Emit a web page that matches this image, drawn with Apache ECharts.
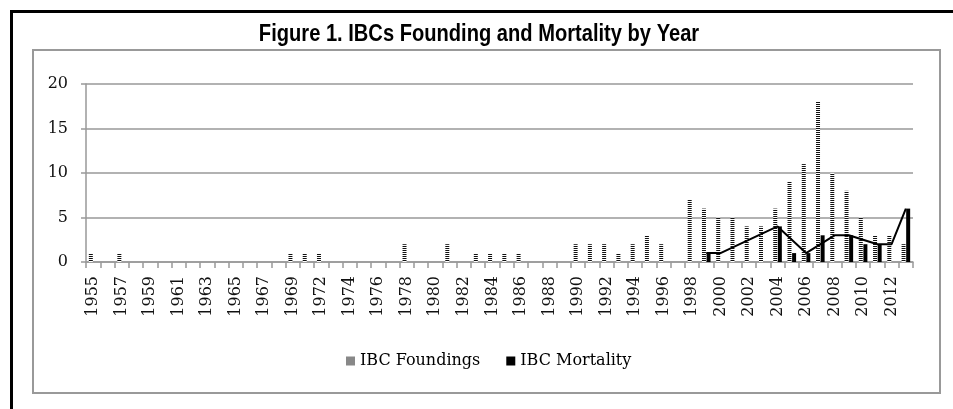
<!DOCTYPE html>
<html>
<head>
<meta charset="utf-8">
<script src="https://cdn.jsdelivr.net/npm/echarts@6/dist/echarts.min.js"></script>
<style>
html,body{margin:0;padding:0;background:#fff;}
#chart{width:953px;height:409px;}
</style>
</head>
<body>
<div id="chart"></div>
<script>
var years = ['1955','1956','1957','1958','1959','1960','1961','1962','1963','1964','1965','1966','1967','1968','1969','1971',
  '1972','1973','1974','1975','1976','1977','1978','1979','1980','1981','1982','1983','1984','1985','1986','1987','1988','1989',
  '1990','1991','1992','1993','1994','1995','1996','1997','1998','1999','2000','2001','2002','2003','2004','2005','2006','2007',
  '2008','2009','2010','2011','2012','2013'];
var foundings = [1,0,1,0,0,0,0,0,0,0,0,0,0,0,1,1,
  1,0,0,0,0,0,2,0,0,2,0,1,1,1,1,0,0,0,
  2,2,2,1,2,3,2,0,7,6,5,5,4,4,6,9,11,18,
  10,8,5,3,3,2];
var mortality = [0,0,0,0,0,0,0,0,0,0,0,0,0,0,0,0,
  0,0,0,0,0,0,0,0,0,0,0,0,0,0,0,0,0,0,
  0,0,0,0,0,0,0,0,0,1,0,0,0,0,4,1,1,3,
  0,3,2,2,0,6];
var mortalityLine = [null,null,null,null,null,null,null,null,null,null,null,null,null,null,null,null,
  null,null,null,null,null,null,null,null,null,null,null,null,null,null,null,null,null,null,
  null,null,null,null,null,null,null,null,null,1,1,null,null,null,4,null,1,null,
  3,3,null,2,2,6];
var yTicks = [0,5,10,15,20];
var titleText = 'Figure 1. IBCs Founding and Mortality by Year';

var pc = document.createElement('canvas');
pc.width = 2; pc.height = 2;
var pctx = pc.getContext('2d');
pctx.fillStyle = '#ffffff'; pctx.fillRect(0,0,2,2);
pctx.fillStyle = '#111111'; pctx.fillRect(0,0,2,1);

var serif = "'DejaVu Serif', 'Liberation Serif', serif";
var chart = echarts.init(document.getElementById('chart'), null, {renderer:'canvas'});
chart.setOption({
  backgroundColor: '#fff',
  animation: false,
  graphic: [
    {type:'rect', z:-10, shape:{x:11.5, y:11.5, width:1000, height:500}, style:{fill:'none', stroke:'#000', lineWidth:3}},
    {type:'rect', z:-10, shape:{x:33, y:50, width:907, height:343}, style:{fill:'none', stroke:'#999', lineWidth:2}},
    {type:'text', x:479, y:34.5, scaleX:0.838, scaleY:1,
      style:{text: titleText, x:0, y:0, align:'center', verticalAlign:'middle',
        font: "bold 24px 'Liberation Sans', Arial, sans-serif", fill:'#000'}}
  ],
  legend: {
    data: ['IBC Foundings', 'IBC Mortality'],
    left: 341, top: 348,
    itemWidth: 9, itemHeight: 9, itemGap: 26,
    icon: 'rect',
    textStyle: {fontFamily: serif, fontSize: 16, color: '#000'}
  },
  grid: {left: 86, right: 40, top: 84, bottom: 147, containLabel: false},
  xAxis: {
    type: 'category',
    data: years,
    boundaryGap: true,
    axisLine: {show: true, lineStyle: {color: '#999', width: 1.5}},
    axisTick: {show: true, interval: 0, length: 6, lineStyle: {color: '#999', width: 1.5}},
    axisLabel: {interval: 1, rotate: 90, margin: 14, fontFamily: serif, fontSize: 16, color: '#111'},
    splitLine: {show: false}
  },
  yAxis: {
    type: 'value',
    min: yTicks[0], max: yTicks[yTicks.length-1], interval: 5,
    axisLine: {show: true, lineStyle: {color: '#999', width: 1.5}},
    axisTick: {show: true, length: 5, lineStyle: {color: '#999', width: 1.5}},
    axisLabel: {margin: 18, fontFamily: serif, fontSize: 16, color: '#111'},
    splitLine: {show: true, lineStyle: {color: '#999', width: 1.5}}
  },
  series: [
    {name: 'IBC Foundings', type: 'bar', data: foundings, barWidth: 4, barGap: '15%',
      itemStyle: {color: {image: pc, repeat: 'repeat'}}},
    {name: 'IBC Mortality', type: 'bar', data: mortality, barWidth: 4,
      itemStyle: {color: '#000'}},
    {name: 'Mortality trend', type: 'line', data: mortalityLine, connectNulls: true, showSymbol: false, symbol: 'none',
      z: 5, lineStyle: {color: '#000', width: 2}, itemStyle: {color: '#000'}}
  ]
});
</script>
</body>
</html>
